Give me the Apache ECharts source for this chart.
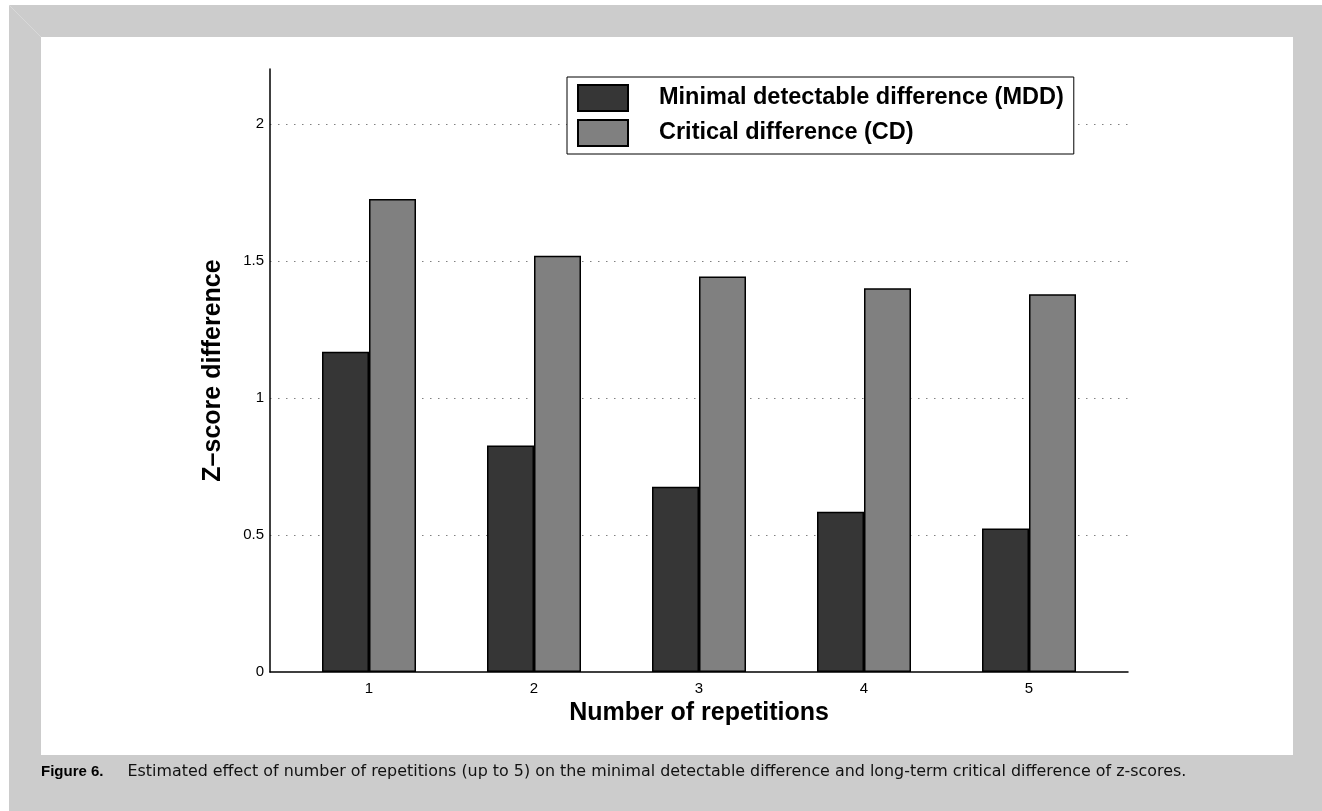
<!DOCTYPE html>
<html>
<head>
<meta charset="utf-8">
<script src="https://cdn.jsdelivr.net/npm/echarts@6/dist/echarts.min.js"></script>
<style>
  html, body { margin: 0; padding: 0; background: #ffffff; }
  #chart { width: 1322px; height: 811px; }
</style>
</head>
<body>
<div id="chart"></div>
<script>
// Number of repetitions (x positions of the bar groups)
const repetitions = [1, 2, 3, 4, 5];
// Minimal detectable difference (MDD), z-score units
const mddValues = [1.168, 0.826, 0.676, 0.585, 0.524];
// Long-term critical difference (CD), z-score units
const cdValues = [1.726, 1.519, 1.443, 1.400, 1.378];
// Labelled y ticks
const yTickLabels = [0, 0.5, 1, 1.5, 2];

const FONT = '"Liberation Sans", Arial, Helvetica, sans-serif';
const CAPTION_FONT = '"DejaVu Sans", "Liberation Sans", sans-serif';

const chart = echarts.init(document.getElementById('chart'), null, { renderer: 'canvas' });

function pairs(vals) {
  return repetitions.map((r, i) => [r, vals[i]]);
}

const option = {
  animation: false,
  backgroundColor: '#ffffff',
  textStyle: { fontFamily: FONT },
  graphic: [
    { type: 'rect', z: -10, silent: true, shape: { x: 9, y: 5, width: 1313, height: 806 }, style: { fill: '#cccccc' } },
    { type: 'line', z: -9, silent: true, shape: { x1: 9, y1: 5, x2: 41, y2: 37 }, style: { stroke: '#d8d8d8', lineWidth: 1 } },
    { type: 'rect', z: -9, silent: true, shape: { x: 41, y: 37, width: 1252, height: 718 }, style: { fill: '#ffffff' } },
    {
      type: 'text', z: 10, left: 41, top: 764,
      style: {
        text: '{b|Figure 6.}{r|Estimated effect of number of repetitions (up to 5) on the minimal detectable difference and long-term critical difference of z-scores.}',
        rich: {
          b: { fontFamily: FONT, fontSize: 15, fontWeight: 'bold', fill: '#000' },
          r: { fontFamily: CAPTION_FONT, fontSize: 15.9, fill: '#111', padding: [0, 0, 0, 24] }
        }
      }
    }
  ],
  legend: {
    orient: 'vertical',
    left: 567,
    top: 77,
    padding: [7, 10, 7, 10],
    itemGap: 7,
    itemWidth: 50,
    itemHeight: 26,
    icon: 'rect',
    borderColor: '#000',
    borderWidth: 1,
    backgroundColor: '#ffffff',
    textStyle: {
      fontFamily: FONT,
      fontSize: 23.5,
      lineHeight: 26,
      fontWeight: 'bold',
      color: '#000',
      padding: [0, 0, 0, 26]
    },
    data: ['Minimal detectable difference (MDD)', 'Critical difference (CD)']
  },
  grid: { left: 270, right: 194, top: 69, bottom: 139, containLabel: false },
  xAxis: {
    type: 'value',
    min: 0.4,
    max: 5.6,
    name: 'Number of repetitions',
    nameLocation: 'middle',
    nameGap: 27,
    nameTextStyle: { fontFamily: FONT, fontSize: 25, fontWeight: 'bold', color: '#000' },
    axisLine: { show: true, onZero: false, lineStyle: { color: '#000', width: 1.5 } },
    axisTick: { show: false },
    splitLine: { show: false },
    axisLabel: {
      customValues: repetitions,
      margin: 9,
      fontFamily: FONT, fontSize: 15, color: '#000'
    }
  },
  yAxis: {
    type: 'value',
    min: 0,
    max: 2.2,
    interval: 0.5,
    name: 'Z\u2013score difference',
    nameLocation: 'middle',
    nameGap: 44,
    nameRotate: 90,
    nameTextStyle: { fontFamily: FONT, fontSize: 25, fontWeight: 'bold', color: '#000' },
    axisLine: { show: true, lineStyle: { color: '#000', width: 1.5 } },
    axisTick: { show: false },
    axisLabel: {
      margin: 6,
      fontFamily: FONT, fontSize: 15, color: '#000',
      formatter: function (v) {
        const hit = yTickLabels.find(t => Math.abs(t - v) < 1e-6);
        return hit === undefined ? '' : String(hit);
      }
    },
    splitLine: {
      show: true,
      showMinLine: false,
      showMaxLine: false,
      lineStyle: { color: '#808080', width: 1, type: [1.5, 6.5] }
    }
  },
  series: [
    {
      name: 'Minimal detectable difference (MDD)',
      type: 'bar',
      barWidth: 47,
      barGap: '0%',
      data: pairs(mddValues),
      itemStyle: { color: '#363636', borderColor: '#000', borderWidth: 1.5 }
    },
    {
      name: 'Critical difference (CD)',
      type: 'bar',
      barWidth: 47,
      barGap: '0%',
      data: pairs(cdValues),
      itemStyle: { color: '#808080', borderColor: '#000', borderWidth: 1.5 }
    }
  ]
};

chart.setOption(option);
</script>
</body>
</html>
